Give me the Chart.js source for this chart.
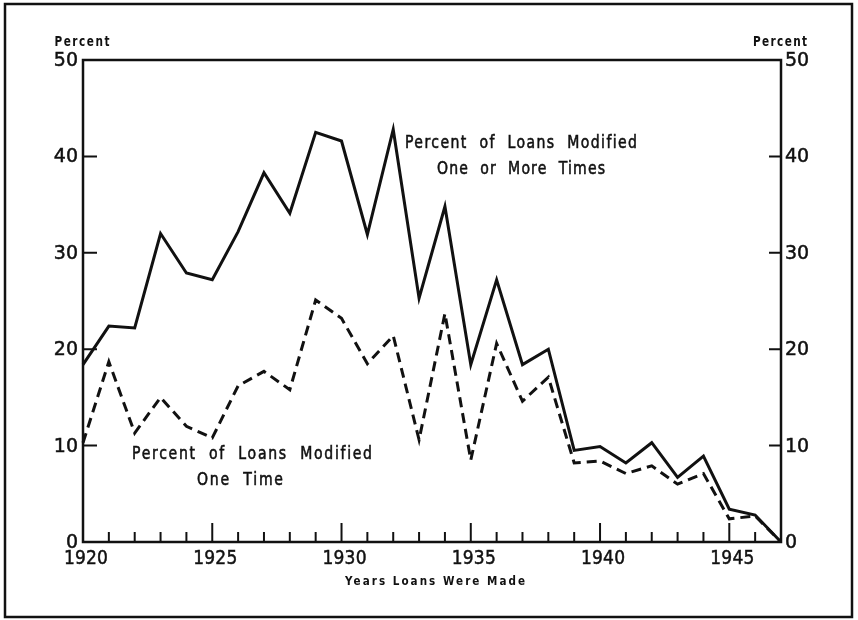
<!DOCTYPE html>
<html>
<head>
<meta charset="utf-8">
<script src="https://cdn.jsdelivr.net/npm/chart.js@4.4.1/dist/chart.umd.min.js"></script>
<style>
  html, body { margin: 0; padding: 0; background: #fff; }
  #wrap { width: 858px; height: 620px; }
</style>
</head>
<body>
<div id="wrap"><canvas id="chart" width="858" height="620"></canvas></div>
<script>
const years = [1920, 1921, 1922, 1923, 1924, 1925, 1926, 1927, 1928, 1929,
  1930, 1931, 1932, 1933, 1934, 1935, 1936, 1937, 1938, 1939,
  1940, 1941, 1942, 1943, 1944, 1945, 1946, 1947]

// percent of loans modified one or more times (solid)
const modifiedOneOrMore = [18.4, 22.4, 22.2, 32.0, 27.9, 27.2, 32.2, 38.3, 34.1, 42.5,
  41.6, 31.9, 42.8, 25.3, 34.8, 18.4, 27.2, 18.4, 20.0, 9.5,
  9.9, 8.2, 10.3, 6.7, 8.9, 3.4, 2.8, 0]

// percent of loans modified one time (dashed)
const modifiedOnce = [10.3, 18.7, 11.3, 15.0, 12.0, 10.8, 16.2, 17.7, 15.8, 25.1,
  23.2, 18.5, 21.4, 10.6, 23.7, 8.5, 20.6, 14.6, 17.1, 8.2,
  8.4, 7.1, 7.9, 6.0, 7.1, 2.4, 2.7, 0]

const yTicks = [0, 10, 20, 30, 40, 50]
const xTickLabels = [1920, 1925, 1930, 1935, 1940, 1945]

const INK = "#111"
const FONT = "'DejaVu Sans', sans-serif"

// lettering: squeeze horizontally by sx, then spread letters to fill width
function letter(ctx, text, cx, cy, width, font, sx, heavy) {
  ctx.save()
  ctx.font = font
  ctx.letterSpacing = "0px"
  const w = ctx.measureText(text).width
  const sp = Math.max(0, (width / sx - w) / (text.length - 1))
  ctx.letterSpacing = sp + "px"
  ctx.textAlign = "left"
  ctx.textBaseline = "middle"
  ctx.translate(cx - width / 2, cy)
  ctx.scale(sx, 1)
  ctx.fillText(text, 0, 0)
  if (heavy) {
    ctx.lineWidth = heavy
    ctx.strokeText(text, 0, 0)
  }
  ctx.restore()
}

const decorations = {
  id: "decorations",
  afterDraw(chart) {
    const ctx = chart.ctx
    const { left, right, top, bottom } = chart.chartArea
    const xs = chart.scales.x
    const ys = chart.scales.y
    ctx.save()
    ctx.strokeStyle = INK
    ctx.fillStyle = INK
    ctx.lineCap = "butt"

    // outer frame
    ctx.lineWidth = 2.5
    ctx.strokeRect(5, 4, 847, 613)

    // plot box
    ctx.strokeRect(left, top, right - left, bottom - top)

    // x ticks, pointing up into the plot
    ctx.lineWidth = 2
    years.forEach(yr => {
      if (yr === years[0] || yr === years[years.length - 1]) return
      const px = xs.getPixelForValue(yr)
      const len = yr % 5 === 0 ? 19 : 10
      ctx.beginPath()
      ctx.moveTo(px, bottom)
      ctx.lineTo(px, bottom - len)
      ctx.stroke()
    })

    // y ticks on both sides, inward
    yTicks.forEach(v => {
      if (v === 0 || v === 50) return
      const py = ys.getPixelForValue(v)
      ctx.beginPath()
      ctx.moveTo(left, py)
      ctx.lineTo(left + 14, py)
      ctx.moveTo(right, py)
      ctx.lineTo(right - 12, py)
      ctx.stroke()
    })

    // y tick labels
    ctx.font = "19px " + FONT
    ctx.lineWidth = 0.5
    ctx.textBaseline = "middle"
    yTicks.forEach(v => {
      const py = ys.getPixelForValue(v) + 1
      ctx.textAlign = "right"
      ctx.fillText(String(v), left - 5, py)
      ctx.strokeText(String(v), left - 5, py)
      ctx.textAlign = "left"
      ctx.fillText(String(v), right + 4, py)
      ctx.strokeText(String(v), right + 4, py)
    })

    // x tick labels
    xTickLabels.forEach(yr => {
      const px = xs.getPixelForValue(yr) + 3
      letter(ctx, String(yr), px, bottom + 17, 44, "19px " + FONT, 0.9, 0.5)
    })

    // unit labels
    letter(ctx, "Percent", 82, 42, 55, "bold 14px " + FONT, 0.75)
    letter(ctx, "Percent", 780, 42, 54, "bold 14px " + FONT, 0.75)

    // axis title
    letter(ctx, "Years Loans Were Made", 435, 582, 180, "bold 13px " + FONT, 0.8)

    // series annotations
    letter(ctx, "Percent  of  Loans  Modified", 521, 143, 232, "18px " + FONT, 0.78, 0.6)
    letter(ctx, "One  or  More  Times", 521, 169, 168, "18px " + FONT, 0.78, 0.6)
    letter(ctx, "Percent  of  Loans  Modified", 252, 454, 240, "18px " + FONT, 0.78, 0.6)
    letter(ctx, "One  Time", 240, 480, 86, "18px " + FONT, 0.78, 0.6)

    ctx.restore()
  }
}

new Chart(document.getElementById("chart"), {
  type: "line",
  data: {
    datasets: [
      {
        label: "Percent of Loans Modified One or More Times",
        data: years.map((yr, i) => ({ x: yr, y: modifiedOneOrMore[i] })),
        borderColor: INK,
        borderWidth: 3,
        borderJoinStyle: "miter",
        pointRadius: 0,
        tension: 0,
        fill: false,
        clip: false
      },
      {
        label: "Percent of Loans Modified One Time",
        data: years.map((yr, i) => ({ x: yr, y: modifiedOnce[i] })),
        borderColor: INK,
        borderWidth: 3,
        borderDash: [10, 6],
        borderJoinStyle: "miter",
        pointRadius: 0,
        tension: 0,
        fill: false,
        clip: false
      }
    ]
  },
  options: {
    responsive: false,
    animation: false,
    layout: { padding: { left: 83, right: 77, top: 60, bottom: 78 } },
    plugins: { legend: { display: false }, tooltip: { enabled: false } },
    scales: {
      x: { type: "linear", min: 1920, max: 1947, display: false },
      y: { min: 0, max: 50, display: false }
    }
  },
  plugins: [decorations]
})
</script>
</body>
</html>
